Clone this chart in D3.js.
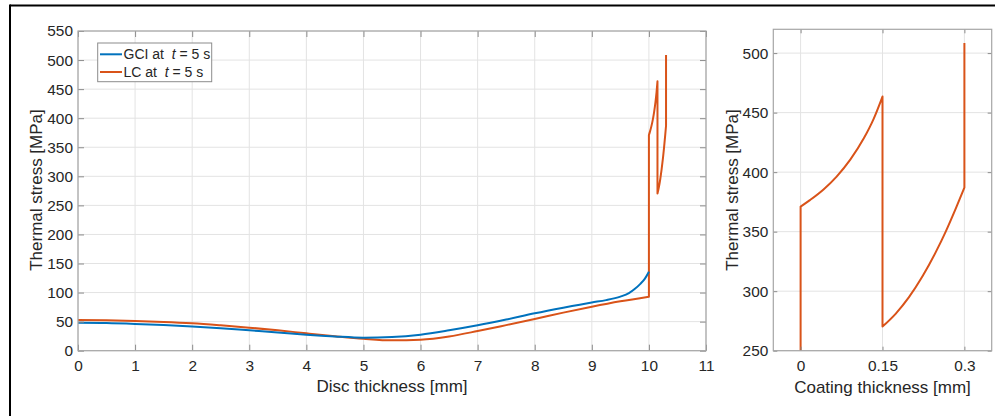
<!DOCTYPE html>
<html>
<head>
<meta charset="utf-8">
<script src="https://cdn.jsdelivr.net/npm/d3@7"></script>
<style>
  html, body { margin: 0; padding: 0; background: #fff; }
  svg { display: block; font-family: "Liberation Sans", Arial, sans-serif; }
</style>
</head>
<body>
<svg id="chart" width="1000" height="416"></svg>
<script>
// ---- data ----
const gciX = [0, 0.5, 1, 1.5, 2, 2.5, 3, 3.5, 4, 4.5, 5, 5.5, 6, 6.5, 7, 7.5, 8, 8.5, 9, 9.25, 9.5, 9.65, 9.75, 9.85, 9.93, 10];
const gciStress = [48, 47.5, 46, 44, 41.5, 38.5, 35, 31.5, 27.6, 24.5, 22.4, 23.5, 27.6, 35, 43.6, 53.5, 64.3, 74, 83, 87, 93, 99, 106, 115, 124, 136];

const lcDiscX = [0, 0.5, 1, 1.5, 2, 2.5, 3, 3.5, 4, 4.5, 5, 5.5, 6, 6.5, 7, 7.5, 8, 8.5, 9, 9.5, 10];
const lcDiscStress = [52.8, 52.3, 51.1, 49.5, 47.1, 43.6, 39.6, 35, 29.9, 25, 20.6, 17.8, 19, 24.5, 33.8, 44, 54.5, 65.5, 75.7, 85, 93];

const coatX = [0, 0, 0.017, 0.042, 0.066, 0.091, 0.1155, 0.134, 0.15, 0.15, 0.174, 0.1985, 0.223, 0.248, 0.266, 0.2847, 0.3, 0.3];
const coatStress = [93, 371, 376.5, 385.5, 396.3, 410.5, 428.2, 445, 463.5, 270.3, 281, 295, 312.3, 333.2, 350.3, 370, 387, 508.5];

const discTicksX = [0, 1, 2, 3, 4, 5, 6, 7, 8, 9, 10, 11];
const discTicksY = [0, 50, 100, 150, 200, 250, 300, 350, 400, 450, 500, 550];
const coatTicksX = [0, 0.15, 0.3];
const coatTicksY = [250, 300, 350, 400, 450, 500];

const legendNames = ["GCI at", "LC at"];

// ---- styles ----
const BLUE = "#0072BD", ORANGE = "#D95319";
const TXT = "#262626", AXIS = "#a6a6a6", GRID = "#e3e3e3";
const FONT = "'Liberation Sans', Arial, sans-serif";

const svg = d3.select("#chart");

// frame
svg.append("line").attr("x1", 10).attr("x2", 995).attr("y1", 5.5).attr("y2", 5.5)
  .attr("stroke", "#000").attr("stroke-width", 2);
svg.append("line").attr("x1", 10).attr("x2", 10).attr("y1", 4.5).attr("y2", 416)
  .attr("stroke", "#000").attr("stroke-width", 2);

const lineMono = d3.line().curve(d3.curveMonotoneX);

// smooth path: runs with increasing x are monotone curves, equal-x steps are straight jumps
function smoothPath(pts) {
  let d = "";
  let run = [pts[0]];
  const flush = () => {
    if (run.length > 1) {
      const s = lineMono(run);
      d += d ? "L" + s.slice(1) : s;
    } else if (!d) {
      d = "M" + run[0][0] + "," + run[0][1];
    }
  };
  for (let i = 1; i < pts.length; i++) {
    if (pts[i][0] > pts[i - 1][0]) {
      run.push(pts[i]);
    } else {
      flush();
      run = [pts[i]];
      d += "L" + pts[i][0] + "," + pts[i][1];
    }
  }
  flush();
  return d;
}

function drawGrid(opt) {
  const { x, y, ticksX, ticksY, id } = opt;
  const [x0, x1] = x.range();
  const [y0, y1] = y.range();
  const g = svg.append("g");
  g.selectAll(null).data(ticksX).join("line")
    .attr("x1", d => x(d)).attr("x2", d => x(d)).attr("y1", y0).attr("y2", y1)
    .attr("stroke", GRID).attr("stroke-width", 1);
  g.selectAll(null).data(ticksY).join("line")
    .attr("x1", x0).attr("x2", x1).attr("y1", d => y(d)).attr("y2", d => y(d))
    .attr("stroke", GRID).attr("stroke-width", 1);
  svg.append("clipPath").attr("id", id).append("rect")
    .attr("x", x0).attr("y", y1).attr("width", x1 - x0).attr("height", y0 - y1);
}

function drawFrame(opt) {
  const { x, y, ticksX, ticksY, fmtX, tickLen } = opt;
  const [x0, x1] = x.range();
  const [y0, y1] = y.range();
  const g = svg.append("g");
  const bx = g.append("g").attr("transform", `translate(0,${y0})`)
    .call(d3.axisBottom(x).tickValues(ticksX).tickSize(-tickLen).tickPadding(9).tickFormat(fmtX));
  const tx = g.append("g").attr("transform", `translate(0,${y1})`)
    .call(d3.axisTop(x).tickValues(ticksX).tickSize(-tickLen).tickFormat(""));
  const ly = g.append("g").attr("transform", `translate(${x0},0)`)
    .call(d3.axisLeft(y).tickValues(ticksY).tickSize(-tickLen).tickPadding(5));
  const ry = g.append("g").attr("transform", `translate(${x1},0)`)
    .call(d3.axisRight(y).tickValues(ticksY).tickSize(-tickLen).tickFormat(""));
  [bx, tx, ly, ry].forEach(a => {
    a.select(".domain").remove();
    a.selectAll(".tick line").attr("stroke", "#8c8c8c").attr("stroke-width", 1);
    a.selectAll("text").attr("fill", TXT).style("font-size", "15.4px").style("font-family", FONT);
  });
  g.append("rect").attr("x", x0).attr("y", y1).attr("width", x1 - x0).attr("height", y0 - y1)
    .attr("fill", "none").attr("stroke", AXIS).attr("stroke-width", 1.2);
}

// ---- left plot ----
const xL = d3.scaleLinear().domain([0, 11]).range([78, 706]);
const yL = d3.scaleLinear().domain([0, 550]).range([350.7, 31]);
const optL = { x: xL, y: yL, ticksX: discTicksX, ticksY: discTicksY, fmtX: d3.format("d"), tickLen: 6, id: "clipL" };
drawGrid(optL);

const gL = svg.append("g").attr("clip-path", "url(#clipL)");
const lcLeftPts = lcDiscX.map((d, i) => [xL(d), yL(lcDiscStress[i])])
  .concat(coatX.slice(1).map((d, i) => [xL(10 + d), yL(coatStress[i + 1])]));
gL.append("path")
  .attr("d", smoothPath(lcLeftPts))
  .attr("fill", "none").attr("stroke", ORANGE).attr("stroke-width", 2).attr("stroke-linejoin", "round");
gL.append("path")
  .attr("d", lineMono(gciX.map((d, i) => [xL(d), yL(gciStress[i])])))
  .attr("fill", "none").attr("stroke", BLUE).attr("stroke-width", 2);
drawFrame(optL);

// legend
const lg = svg.append("g");
lg.append("rect").attr("x", 97.7).attr("y", 43).attr("width", 114).attr("height", 38.7)
  .attr("fill", "#fff").attr("stroke", "#8c8c8c").attr("stroke-width", 1);
legendNames.forEach((name, i) => {
  const yy = 54.3 + i * 17.7;
  lg.append("line").attr("x1", 100).attr("x2", 122).attr("y1", yy).attr("y2", yy)
    .attr("stroke", i === 0 ? BLUE : ORANGE).attr("stroke-width", 2);
  const t = lg.append("text").attr("x", 123.5).attr("y", yy + 5).attr("fill", TXT)
    .style("font-size", "14px").style("font-family", FONT).style("white-space", "pre");
  t.append("tspan").text(name + "  ");
  t.append("tspan").style("font-style", "italic").text("t");
  t.append("tspan").text(" = 5 s");
});

// labels left
svg.append("text").attr("x", 392).attr("y", 391.5).attr("text-anchor", "middle")
  .attr("fill", TXT).style("font-size", "17px").text("Disc thickness [mm]");
svg.append("text").attr("transform", "translate(42,190) rotate(-90)").attr("text-anchor", "middle")
  .attr("fill", TXT).style("font-size", "17px").text("Thermal stress [MPa]");

// ---- right plot ----
const xR = d3.scaleLinear().domain([-0.05, 0.35]).range([773.3, 991.7]);
const yR = d3.scaleLinear().domain([250, 520]).range([350.7, 29.3]);
const optR = { x: xR, y: yR, ticksX: coatTicksX, ticksY: coatTicksY, fmtX: d => String(d), tickLen: 4, id: "clipR" };
drawGrid(optR);
const gR = svg.append("g").attr("clip-path", "url(#clipR)");
gR.append("path")
  .attr("d", smoothPath(coatX.map((d, i) => [xR(d), yR(coatStress[i])])))
  .attr("fill", "none").attr("stroke", ORANGE).attr("stroke-width", 2).attr("stroke-linejoin", "round");
drawFrame(optR);

svg.append("text").attr("x", 882.5).attr("y", 393).attr("text-anchor", "middle")
  .attr("fill", TXT).style("font-size", "17px").text("Coating thickness [mm]");
svg.append("text").attr("transform", "translate(738,190) rotate(-90)").attr("text-anchor", "middle")
  .attr("fill", TXT).style("font-size", "17px").text("Thermal stress [MPa]");
</script>
</body>
</html>
